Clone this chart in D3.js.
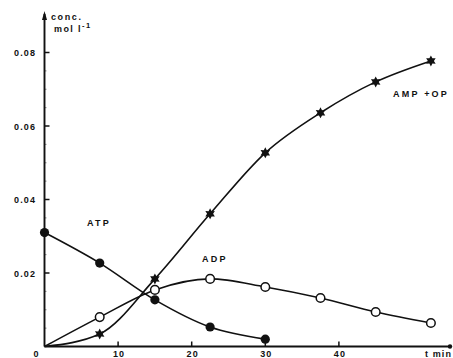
<!DOCTYPE html>
<html>
<head>
<meta charset="utf-8">
<script src="https://cdn.jsdelivr.net/npm/d3@7"></script>
<style>
  html, body { margin: 0; padding: 0; background: #fff; }
  svg text { font-family: "Liberation Sans", Arial, sans-serif; font-weight: bold; fill: #111; }
</style>
</head>
<body>
<svg id="chart" width="453" height="358"></svg>
<script>
// time points (min)
const time = [0, 7.5, 15, 22.5, 30, 37.5, 45, 52.5];
// concentrations, mol l-1
const atp = [0.031, 0.0227, 0.0127, 0.0053, 0.002];
const adp = [0, 0.008, 0.0154, 0.0184, 0.0162, 0.0132, 0.0094, 0.0064];
const ampOp = [0, 0.0034, 0.0184, 0.0361, 0.0527, 0.0636, 0.072, 0.0777];
const xTicks = [0, 10, 20, 30, 40];
const yTicks = [0.02, 0.04, 0.06, 0.08];

const svg = d3.select("#chart");
const x = d3.scaleLinear().domain([0, 55]).range([44.5, 449.3]);
const y = d3.scaleLinear().domain([0, 0.08]).range([346.5, 52.5]);
const ink = "#111";

// axes
const g = svg.append("g");
g.append("line").attr("x1", x(0)).attr("x2", x(0)).attr("y1", 346.5).attr("y2", 14)
  .attr("stroke", ink).attr("stroke-width", 1.9);
g.append("path").attr("d", `M${x(0)-2.5},${20} L${x(0)},${11} L${x(0)+2.5},${20} Z`).attr("fill", ink);
g.append("line").attr("x1", x(0)).attr("x2", 450).attr("y1", y(0)).attr("y2", y(0))
  .attr("stroke", ink).attr("stroke-width", 1.9);
g.append("circle").attr("cx", 450).attr("cy", y(0)).attr("r", 2.2).attr("fill", ink);

// y ticks
yTicks.forEach(v => {
  g.append("line").attr("x1", x(0)).attr("x2", x(0) + 5).attr("y1", y(v)).attr("y2", y(v))
    .attr("stroke", ink).attr("stroke-width", 1.5);
  g.append("text").attr("x", 36).attr("y", y(v) + 3.5).attr("text-anchor", "end")
    .attr("font-size", 9).attr("letter-spacing", 1.1).text(v.toFixed(2));
});
// minor y ticks
d3.range(0.005, 0.08, 0.005).forEach(v => {
  if (yTicks.some(t => Math.abs(t - v) < 1e-9)) return;
  g.append("line").attr("x1", x(0)).attr("x2", x(0) + 2).attr("y1", y(v)).attr("y2", y(v))
    .attr("stroke", ink).attr("stroke-width", 0.8).attr("opacity", 0.6);
});
// x ticks
xTicks.forEach(v => {
  if (v > 0) {
    g.append("line").attr("x1", x(v)).attr("x2", x(v)).attr("y1", y(0)).attr("y2", y(0) - 5)
      .attr("stroke", ink).attr("stroke-width", 1.5);
  }
  g.append("text").attr("x", v === 0 ? x(v) - 8 : x(v) + 1).attr("y", 357).attr("text-anchor", "middle")
    .attr("font-size", 9).attr("letter-spacing", 1.1).text(v);
});
g.append("text").attr("x", 452).attr("y", 357).attr("text-anchor", "end")
  .attr("font-size", 9).attr("letter-spacing", 1.1).text("t min");

// axis title
g.append("text").attr("x", 51).attr("y", 20).attr("font-size", 9).attr("letter-spacing", 1.6).text("conc.");
const unit = g.append("text").attr("x", 54).attr("y", 32).attr("font-size", 9).attr("letter-spacing", 1.4);
unit.append("tspan").text("mol l");
unit.append("tspan").attr("dy", -4).attr("font-size", 7.5).text("-1");

// curves
const line = d3.line().x(d => x(d[0])).y(d => y(d[1])).curve(d3.curveMonotoneX);
const series = [
  { vals: atp, marker: "filled" },
  { vals: adp, marker: "open" },
  { vals: ampOp, marker: "star" }
];
series.forEach(s => {
  const pts = s.vals.map((v, i) => [time[i], v]);
  svg.append("path").attr("d", line(pts)).attr("fill", "none")
    .attr("stroke", ink).attr("stroke-width", 1.6);
});

// six-pointed star marker
function starPath(r) {
  const pts = [];
  for (let k = 0; k < 12; k++) {
    const a = Math.PI / 6 * k - Math.PI / 2;
    const rr = k % 2 === 0 ? r : r * 0.55;
    pts.push([rr * Math.cos(a), rr * Math.sin(a)]);
  }
  return "M" + pts.map(p => p.join(",")).join("L") + "Z";
}

series.forEach(s => {
  s.vals.forEach((v, i) => {
    if (s.marker === "star" && i === 0) return;
    if (s.marker === "open" && i === 0) return;
    const cx = x(time[i]), cy = y(v);
    if (s.marker === "filled") {
      svg.append("circle").attr("cx", cx).attr("cy", cy).attr("r", 4.6).attr("fill", ink);
    } else if (s.marker === "open") {
      svg.append("circle").attr("cx", cx).attr("cy", cy).attr("r", 4.3)
        .attr("fill", "#fff").attr("stroke", ink).attr("stroke-width", 1.5);
    } else {
      svg.append("path").attr("d", starPath(5.5)).attr("transform", `translate(${cx},${cy})`).attr("fill", ink);
    }
  });
});

// series labels
const lab = (t, xx, yy) => svg.append("text").attr("x", xx).attr("y", yy)
  .attr("font-size", 9).attr("letter-spacing", 2.2).text(t);
lab("ATP", 87, 226);
lab("ADP", 202, 262);
lab("AMP +OP", 393, 97);
</script>
</body>
</html>
